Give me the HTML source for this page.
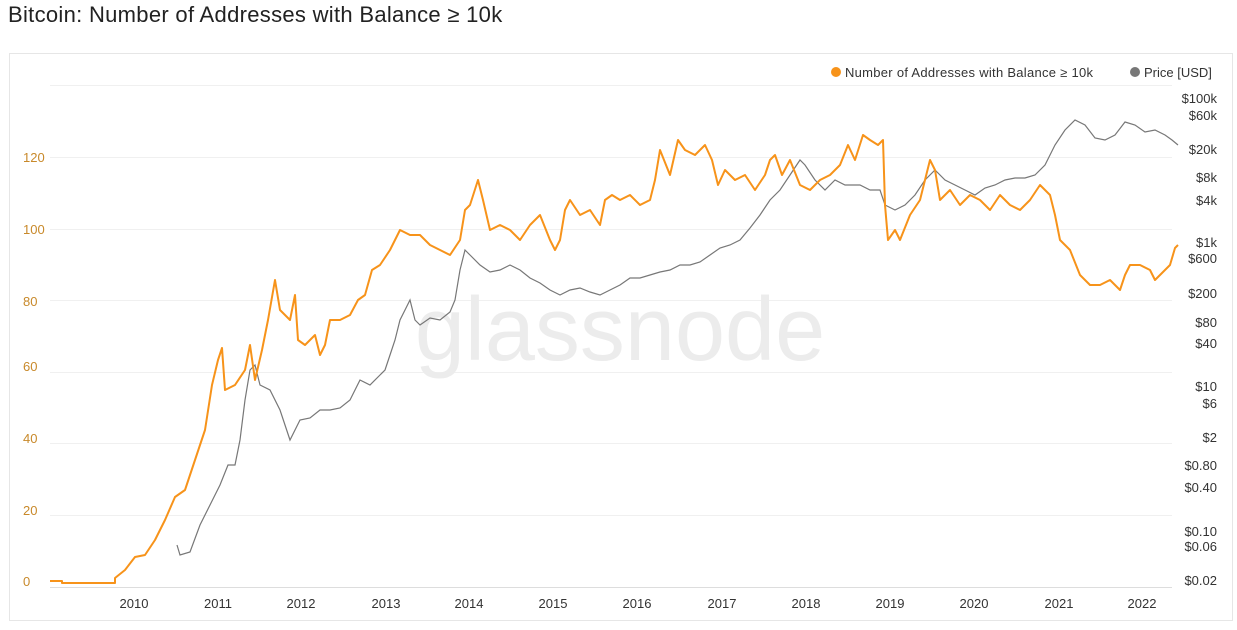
<!DOCTYPE html>
<html><head><meta charset="utf-8"><style>
body{margin:0;background:#fff;width:1237px;height:625px;overflow:hidden;font-family:"Liberation Sans",sans-serif}
</style></head><body>
<svg width="1237" height="625" xmlns="http://www.w3.org/2000/svg" font-family="Liberation Sans, sans-serif">
<text x="8" y="22" font-size="22" fill="#222" font-weight="500" letter-spacing="0.3">Bitcoin: Number of Addresses with Balance ≥ 10k</text>
<rect x="9.5" y="53.5" width="1223" height="567" fill="#fff" stroke="#e6e6e6"/>
<g stroke="#f0f0f0" stroke-width="1">
<line x1="50" x2="1172" y1="85.5" y2="85.5"/>
<line x1="50" x2="1172" y1="157.5" y2="157.5"/>
<line x1="50" x2="1172" y1="229.5" y2="229.5"/>
<line x1="50" x2="1172" y1="300.5" y2="300.5"/>
<line x1="50" x2="1172" y1="372.5" y2="372.5"/>
<line x1="50" x2="1172" y1="443.5" y2="443.5"/>
<line x1="50" x2="1172" y1="515.5" y2="515.5"/>
</g>
<line x1="50" x2="1172" y1="587.5" y2="587.5" stroke="#ddd"/>
<text x="620" y="360" font-size="90" fill="#ececec" text-anchor="middle">glassnode</text>
<g font-size="13" fill="#c8892a">
<text x="23" y="586">0</text><text x="23" y="515">20</text><text x="23" y="443">40</text><text x="23" y="371">60</text><text x="23" y="306">80</text><text x="23" y="234">100</text><text x="23" y="162">120</text>
</g>
<g font-size="13" fill="#333" text-anchor="middle">
<text x="134" y="608">2010</text><text x="218" y="608">2011</text><text x="301" y="608">2012</text><text x="386" y="608">2013</text><text x="469" y="608">2014</text><text x="553" y="608">2015</text><text x="637" y="608">2016</text><text x="722" y="608">2017</text><text x="806" y="608">2018</text><text x="890" y="608">2019</text><text x="974" y="608">2020</text><text x="1059" y="608">2021</text><text x="1142" y="608">2022</text>
</g>
<g font-size="13" fill="#333" text-anchor="end">
<text x="1217" y="103">$100k</text><text x="1217" y="120">$60k</text><text x="1217" y="154">$20k</text><text x="1217" y="182">$8k</text><text x="1217" y="205">$4k</text><text x="1217" y="247">$1k</text><text x="1217" y="263">$600</text><text x="1217" y="298">$200</text><text x="1217" y="327">$80</text><text x="1217" y="348">$40</text><text x="1217" y="391">$10</text><text x="1217" y="408">$6</text><text x="1217" y="442">$2</text><text x="1217" y="470">$0.80</text><text x="1217" y="492">$0.40</text><text x="1217" y="536">$0.10</text><text x="1217" y="551">$0.06</text><text x="1217" y="585">$0.02</text>
</g>
<circle cx="836" cy="72" r="5" fill="#f7931a"/>
<text x="845" y="77" font-size="13" fill="#333" textLength="248">Number of Addresses with Balance ≥ 10k</text>
<circle cx="1135" cy="72" r="5" fill="#777"/>
<text x="1144" y="77" font-size="13" fill="#333">Price [USD]</text>
<polyline fill="none" stroke="#777" stroke-width="1.2" points="177,545 180,555 190,552 200,525 210,505 220,485 228,465 235,465 240,440 245,400 250,370 255,365 260,385 270,390 280,410 290,440 300,420 310,418 320,410 330,410 340,408 350,400 355,390 360,380 370,385 380,375 385,370 390,355 395,340 400,320 405,310 410,300 415,320 420,325 430,318 440,320 450,312 455,300 460,270 465,250 470,255 480,265 490,272 500,270 510,265 520,270 530,278 540,283 550,290 560,295 570,290 580,288 590,292 600,295 610,290 620,285 630,278 640,278 650,275 660,272 670,270 680,265 690,265 700,262 710,255 720,248 730,245 740,240 750,228 760,215 770,200 780,190 790,175 800,160 805,165 815,180 825,190 835,180 845,185 860,185 870,190 880,190 885,205 895,210 905,205 915,195 925,180 935,170 945,180 955,185 965,190 975,195 985,188 995,185 1005,180 1015,178 1025,178 1035,175 1045,165 1055,145 1065,130 1075,120 1085,125 1095,138 1105,140 1115,135 1125,122 1135,125 1145,132 1155,130 1165,135 1172,140 1178,145"/>
<polyline fill="none" stroke="#f7931a" stroke-width="2" stroke-linejoin="round" points="50,581 62,581 62,583 115,583 115,578 125,570 135,557 145,555 155,540 165,520 175,497 185,490 195,460 205,430 212,385 218,360 222,348 225,390 235,385 245,370 250,345 255,380 262,350 268,320 275,280 280,310 290,320 295,295 298,340 305,345 315,335 320,355 325,345 330,320 340,320 350,315 358,300 365,295 372,270 380,265 390,250 400,230 410,235 420,235 430,245 440,250 450,255 460,240 465,210 470,205 478,180 483,200 490,230 500,225 510,230 520,240 530,225 540,215 550,240 555,250 560,240 565,210 570,200 580,215 590,210 600,225 605,200 612,195 620,200 630,195 640,205 650,200 655,180 660,150 670,175 678,140 685,150 695,155 705,145 712,160 718,185 725,170 735,180 745,175 755,190 765,175 770,160 775,155 782,175 790,160 800,185 810,190 820,180 830,175 840,165 848,145 855,160 863,135 870,140 878,145 883,140 885,205 888,240 895,230 900,240 910,215 920,200 930,160 935,170 940,200 950,190 960,205 970,195 980,200 990,210 1000,195 1010,205 1020,210 1030,200 1040,185 1050,195 1055,215 1060,240 1070,250 1080,275 1090,285 1100,285 1110,280 1120,290 1125,275 1130,265 1140,265 1150,270 1155,280 1160,275 1165,270 1170,265 1175,248 1178,245"/>
</svg>
</body></html>
